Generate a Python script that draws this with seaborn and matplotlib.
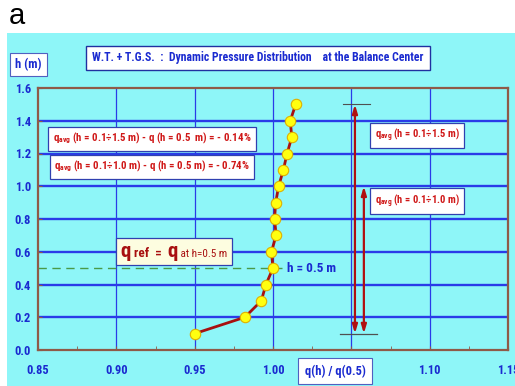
import matplotlib
matplotlib.use('Agg')
import matplotlib.pyplot as plt
import seaborn as sns
import pandas as pd
from matplotlib.patches import Rectangle
from matplotlib.offsetbox import TextArea, HPacker, AnnotationBbox
from matplotlib.ticker import MultipleLocator

# ---- data ----
h_values = [0.1, 0.2, 0.3, 0.4, 0.5, 0.6, 0.7, 0.8, 0.9, 1.0, 1.1, 1.2, 1.3, 1.4, 1.5]
q_ratio = [0.950, 0.982, 0.9925, 0.9955, 1.000, 0.999, 1.002, 1.001, 1.0017,
           1.0036, 1.0066, 1.009, 1.012, 1.011, 1.0145]
x_ticks = [0.85, 0.90, 0.95, 1.00, 1.05, 1.10, 1.15]
x_tick_labels = ['0.85', '0.90', '0.95', '1.00', '', '1.10', '1.15']
y_ticks = [0.0, 0.2, 0.4, 0.6, 0.8, 1.0, 1.2, 1.4, 1.6]
y_tick_labels = ['0.0', '0.2', '0.4', '0.6', '0.8', '1.0', '1.2', '1.4', '1.6']
arrow_q = [1.0523, 1.058]
arrow_top = [1.5, 1.0]
arrow_bottom = 0.1
h_ref = 0.5

title_text = 'W.T. + T.G.S.  :  Dynamic Pressure Distribution    at the Balance Center'
left_notes = [r'$\mathrm{q}_{\mathrm{avg}}$ (h = 0.1÷1.5 m) - q (h = 0.5  m) = - 0.14%',
              r'$\mathrm{q}_{\mathrm{avg}}$ (h = 0.1÷1.0 m) - q (h = 0.5 m) = - 0.74%']
right_notes = [r'$\mathrm{q}_{\mathrm{avg}}$ (h = 0.1÷1.5 m)',
               r'$\mathrm{q}_{\mathrm{avg}}$ (h = 0.1÷1.0 m)']

df = pd.DataFrame({'q': q_ratio, 'h': h_values})

plt.rcParams['font.family'] = ['Roboto Condensed', 'DejaVu Sans']
plt.rcParams['mathtext.fontset'] = 'custom'
plt.rcParams['mathtext.rm'] = 'Roboto Condensed:bold'
plt.rcParams['mathtext.default'] = 'rm'

CYAN = '#8ef6f8'
BLUE = '#1a2ad0'
GRID = '#2a3be8'
BROWN = '#8f5a48'
RED = '#d01818'
DRED = '#a81010'

fig = plt.figure(figsize=(5.15, 3.86), dpi=100)
fig.patch.set_facecolor('white')
fig.patches.append(Rectangle((7/515, 0), 1 - 7/515, 1 - 33/386, transform=fig.transFigure,
                             facecolor=CYAN, edgecolor='none', zorder=-10))
fig.text(9/515, 1 - 16/386, 'a', fontsize=21, family='Liberation Sans', va='center', ha='left')

ax = fig.add_axes([38/515, 1 - 350/386, 470/515, 262/386])
ax.set_facecolor(CYAN)
ax.set_xlim(0.85, 1.15)
ax.set_ylim(0.0, 1.6)

# grid
for yv in y_ticks[1:-1]:
    ax.axhline(yv, color=GRID, lw=1.7, zorder=1)
for xv in x_ticks[1:-1]:
    ax.axvline(xv, color=GRID, lw=0.9, zorder=1)

for s in ax.spines.values():
    s.set_color(BROWN)
    s.set_linewidth(1.6)
    s.set_zorder(2)

ax.set_xticks(x_ticks)
ax.set_xticklabels(x_tick_labels)
ax.set_yticks(y_ticks)
ax.set_yticklabels(y_tick_labels)
ax.xaxis.set_minor_locator(MultipleLocator(0.025))
ax.tick_params(axis='x', which='major', direction='in', length=3, color=BROWN, pad=10,
               labelsize=9, labelcolor=BLUE)
ax.tick_params(axis='x', which='minor', direction='in', length=3, color=BROWN)
ax.tick_params(axis='y', which='major', direction='in', length=3, color=BROWN, pad=5,
               labelsize=9, labelcolor=BLUE)
for lab in ax.get_xticklabels() + ax.get_yticklabels():
    lab.set_fontweight('bold')

# dashed reference line
ax.plot([0.85, 1.006], [h_ref, h_ref], color='#4a9a48', lw=1.0, ls=(0, (6, 4)), zorder=3)

# profile
sns.lineplot(data=df, x='q', y='h', sort=False, estimator=None, ax=ax,
             color=DRED, lw=2.0, marker='o', markersize=7.5,
             markerfacecolor='#ffff10', markeredgecolor='#e0b000', markeredgewidth=0.8,
             zorder=5)
ax.set_xlabel('')
ax.set_ylabel('')

# arrows
for xq, top in zip(arrow_q, arrow_top):
    ax.annotate('', xy=(xq, top), xytext=(xq, arrow_bottom),
                arrowprops=dict(arrowstyle='<|-|>,head_length=0.5,head_width=0.15',
                                color='#b01010', lw=1.6, shrinkA=0, shrinkB=0), zorder=4)
ax.plot([1.0447, 1.0619], [arrow_top[0], arrow_top[0]], color='#505050', lw=0.8, zorder=4)
ax.plot([1.0428, 1.0664], [arrow_bottom, arrow_bottom], color='#505050', lw=0.9, zorder=4)

box_white = dict(boxstyle='square,pad=0.4', facecolor='white', edgecolor='#3040b0', lw=0.9)

for txt, yv in zip(left_notes, [1.29, 1.12]):
    ax.text(0.9228, yv, txt, ha='center', va='center', fontsize=7.8, fontweight='bold',
            color=RED, bbox=box_white, zorder=6)
for txt, yv in zip(right_notes, [1.31, 0.91]):
    ax.text(1.0919, yv, txt, ha='center', va='center', fontsize=7.6, fontweight='bold',
            color=RED, bbox=box_white, zorder=6)

ax.text(1.009, h_ref, 'h = 0.5 m', ha='left', va='center', fontsize=9.5, fontweight='bold',
        color=BLUE, zorder=6)

# q ref box
parts = [TextArea('q', textprops=dict(color=DRED, fontsize=15, fontweight='bold')),
         TextArea(' ref  =  ', textprops=dict(color=DRED, fontsize=9.5, fontweight='bold')),
         TextArea('q', textprops=dict(color=DRED, fontsize=15, fontweight='bold')),
         TextArea(' at h=0.5 m', textprops=dict(color=DRED, fontsize=8))]
pack = HPacker(children=parts, align='baseline', pad=0, sep=0)
ab = AnnotationBbox(pack, (0.9368, 0.60), frameon=True, pad=0.3, zorder=6,
                    bboxprops=dict(boxstyle='square,pad=0.3', facecolor='#fdfde0',
                                   edgecolor='#3040b0', lw=0.9))
ax.add_artist(ab)

# title and axis label boxes
box_title = dict(boxstyle='square,pad=0.5', facecolor='white', edgecolor='#2030a0', lw=1.0)
fig.text(258/515, 1 - 58/386, title_text, ha='center', va='center', fontsize=8.5,
         fontweight='bold', color=BLUE, bbox=box_title)
fig.text(28.5/515, 1 - 64.5/386, 'h (m)', ha='center', va='center', fontsize=9,
         fontweight='bold', color=BLUE, bbox=dict(boxstyle='square,pad=0.4', facecolor='white',
                                                  edgecolor='#5060c0', lw=0.8))
fig.text(335/515, 1 - 371/386, 'q(h) / q(0.5)', ha='center', va='center', fontsize=9,
         fontweight='bold', color=BLUE, bbox=dict(boxstyle='square,pad=0.5', facecolor='white',
                                                  edgecolor='#5060c0', lw=0.8))

fig.savefig('out.png', dpi=100)
